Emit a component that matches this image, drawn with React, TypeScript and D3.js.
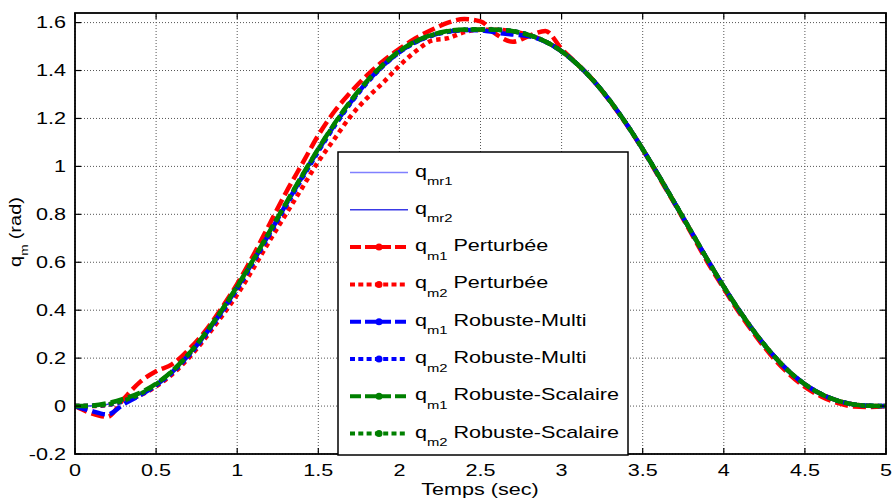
import React from "react";
import * as d3 from "d3";

const TIME = d3.range(51).map((i) => i / 10);

const qmr1 = [0, 0.001, 0.007, 0.023, 0.05, 0.091, 0.146, 0.216, 0.299, 0.394, 0.498, 0.61, 0.727, 0.844, 0.96, 1.072, 1.177, 1.272, 1.355, 1.424, 1.48, 1.521, 1.548, 1.564, 1.57, 1.571, 1.57, 1.564, 1.548, 1.521, 1.48, 1.424, 1.355, 1.272, 1.177, 1.072, 0.96, 0.844, 0.727, 0.61, 0.498, 0.394, 0.299, 0.216, 0.146, 0.091, 0.05, 0.023, 0.007, 0.001, 0];
const qmr2 = [0, 0.001, 0.007, 0.023, 0.05, 0.091, 0.146, 0.216, 0.299, 0.394, 0.498, 0.61, 0.727, 0.844, 0.96, 1.072, 1.177, 1.272, 1.355, 1.424, 1.48, 1.521, 1.548, 1.564, 1.57, 1.571, 1.57, 1.564, 1.548, 1.521, 1.48, 1.424, 1.355, 1.272, 1.177, 1.072, 0.96, 0.844, 0.727, 0.61, 0.498, 0.394, 0.299, 0.216, 0.146, 0.091, 0.05, 0.023, 0.007, 0.001, 0];
const qm1Pert = [0, -0.03, -0.045, 0.03, 0.1, 0.145, 0.175, 0.235, 0.31, 0.405, 0.51, 0.63, 0.76, 0.89, 1.01, 1.13, 1.23, 1.31, 1.38, 1.44, 1.49, 1.535, 1.57, 1.6, 1.615, 1.605, 1.55, 1.52, 1.545, 1.565, 1.49, 1.425, 1.355, 1.27, 1.175, 1.07, 0.955, 0.84, 0.72, 0.6, 0.49, 0.385, 0.29, 0.205, 0.135, 0.08, 0.04, 0.013, -0.002, -0.004, 0];
const qm2Pert = [0, 0, 0.005, 0.02, 0.045, 0.082, 0.133, 0.2, 0.28, 0.37, 0.465, 0.575, 0.69, 0.8, 0.91, 1.02, 1.115, 1.21, 1.285, 1.35, 1.42, 1.48, 1.525, 1.535, 1.56, 1.57, 1.57, 1.563, 1.548, 1.521, 1.48, 1.424, 1.355, 1.272, 1.177, 1.072, 0.96, 0.844, 0.727, 0.61, 0.498, 0.394, 0.299, 0.216, 0.146, 0.091, 0.05, 0.023, 0.007, 0.001, 0];
const qm1Multi = [0, -0.02, -0.035, 0.008, 0.045, 0.088, 0.143, 0.213, 0.296, 0.39, 0.494, 0.606, 0.722, 0.84, 0.956, 1.068, 1.173, 1.268, 1.352, 1.421, 1.477, 1.519, 1.546, 1.563, 1.569, 1.568, 1.558, 1.55, 1.543, 1.52, 1.48, 1.424, 1.355, 1.272, 1.177, 1.072, 0.96, 0.844, 0.727, 0.61, 0.498, 0.394, 0.299, 0.216, 0.146, 0.091, 0.05, 0.023, 0.007, 0.001, 0];
const qm2Multi = [0, 0.001, 0.006, 0.02, 0.046, 0.086, 0.14, 0.209, 0.291, 0.385, 0.488, 0.6, 0.716, 0.833, 0.95, 1.062, 1.168, 1.264, 1.348, 1.419, 1.476, 1.518, 1.546, 1.562, 1.569, 1.571, 1.57, 1.564, 1.548, 1.521, 1.48, 1.424, 1.355, 1.272, 1.177, 1.072, 0.96, 0.844, 0.727, 0.61, 0.498, 0.394, 0.299, 0.216, 0.146, 0.091, 0.05, 0.023, 0.007, 0.001, 0];
const qm1Scal = [0, 0.002, 0.012, 0.03, 0.055, 0.093, 0.147, 0.217, 0.3, 0.396, 0.5, 0.612, 0.729, 0.846, 0.962, 1.074, 1.179, 1.274, 1.356, 1.425, 1.481, 1.522, 1.549, 1.565, 1.571, 1.571, 1.57, 1.564, 1.548, 1.521, 1.48, 1.424, 1.355, 1.272, 1.177, 1.072, 0.96, 0.844, 0.727, 0.61, 0.498, 0.394, 0.299, 0.216, 0.146, 0.091, 0.05, 0.023, 0.007, 0.001, 0];
const qm2Scal = [0, 0.001, 0.007, 0.023, 0.05, 0.091, 0.146, 0.216, 0.299, 0.394, 0.498, 0.61, 0.727, 0.844, 0.96, 1.072, 1.177, 1.272, 1.355, 1.424, 1.48, 1.521, 1.548, 1.564, 1.57, 1.571, 1.57, 1.564, 1.548, 1.521, 1.48, 1.424, 1.355, 1.272, 1.177, 1.072, 0.96, 0.844, 0.727, 0.61, 0.498, 0.394, 0.299, 0.216, 0.146, 0.091, 0.05, 0.023, 0.007, 0.001, 0];

const X_TICKS = [0, 0.5, 1, 1.5, 2, 2.5, 3, 3.5, 4, 4.5, 5];
const X_TICK_LABELS = ["0", "0.5", "1", "1.5", "2", "2.5", "3", "3.5", "4", "4.5", "5"];
const Y_TICKS = [-0.2, 0, 0.2, 0.4, 0.6, 0.8, 1, 1.2, 1.4, 1.6];
const Y_TICK_LABELS = ["-0.2", "0", "0.2", "0.4", "0.6", "0.8", "1", "1.2", "1.4", "1.6"];

type S = { sub: string; rest: string; data: number[]; color: string; kind: "thin" | "dash" | "dot" };
const SERIES: S[] = [
  { sub: "mr1", rest: "", data: qmr1, color: "#8080ff", kind: "thin" },
  { sub: "mr2", rest: "", data: qmr2, color: "#3a3ae6", kind: "thin" },
  { sub: "m1", rest: "Perturbée", data: qm1Pert, color: "#ff0000", kind: "dash" },
  { sub: "m2", rest: "Perturbée", data: qm2Pert, color: "#ff0000", kind: "dot" },
  { sub: "m1", rest: "Robuste-Multi", data: qm1Multi, color: "#0000ff", kind: "dash" },
  { sub: "m2", rest: "Robuste-Multi", data: qm2Multi, color: "#0000ff", kind: "dot" },
  { sub: "m1", rest: "Robuste-Scalaire", data: qm1Scal, color: "#008000", kind: "dash" },
  { sub: "m2", rest: "Robuste-Scalaire", data: qm2Scal, color: "#008000", kind: "dot" },
];

const W = 893, H = 498;
const L = 75, R = 886, T = 13, B = 454;
const FONT = "'Liberation Sans', Arial, sans-serif";
const SX = 1.35;

function styleOf(kind: string) {
  if (kind === "thin") return { w: 1.3, dash: undefined as string | undefined };
  if (kind === "dash") return { w: 4.5, dash: "13,5" };
  return { w: 4.5, dash: "4.5,4" };
}

export default function App() {
  const x = d3.scaleLinear().domain([0, 5]).range([L, R]);
  const y = d3.scaleLinear().domain([-0.2, 1.64]).range([B, T]);
  const line = d3
    .line<number>()
    .x((_, i) => x(TIME[i]))
    .y((d) => y(d))
    .curve(d3.curveMonotoneX);

  const lgX = 338, lgY = 152, lgW = 290, lgH = 303;
  const rowY0 = 172.5, rowStep = 37.3;
  const tick = 6;

  return (
    <svg width={W} height={H} style={{ position: "absolute", left: 0, top: 0, background: "#fff" }}>
      <rect x={0} y={0} width={W} height={H} fill="#fff" />
      {/* grid */}
      {X_TICKS.map((t) => (
        <line key={"gx" + t} x1={x(t)} x2={x(t)} y1={T} y2={B} stroke="#555" strokeWidth={1} strokeDasharray="1,2" />
      ))}
      {Y_TICKS.map((t) => (
        <line key={"gy" + t} x1={L} x2={R} y1={y(t)} y2={y(t)} stroke="#555" strokeWidth={1} strokeDasharray="1,2" />
      ))}
      {/* curves */}
      <g clipPath="url(#clip)">
        {SERIES.map((s, i) => {
          const st = styleOf(s.kind);
          return (
            <path key={"c" + i} d={line(s.data) || ""} fill="none" stroke={s.color} strokeWidth={st.w} strokeDasharray={st.dash} />
          );
        })}
      </g>
      <defs>
        <clipPath id="clip">
          <rect x={L} y={T - 3} width={R - L + 4} height={B - T + 6} />
        </clipPath>
      </defs>
      {/* axes box */}
      <rect x={L} y={T} width={R - L} height={B - T} fill="none" stroke="#000" strokeWidth={1.8} />
      {X_TICKS.map((t) => (
        <g key={"tx" + t}>
          <line x1={x(t)} x2={x(t)} y1={B} y2={B - tick} stroke="#000" strokeWidth={1.2} />
          <line x1={x(t)} x2={x(t)} y1={T} y2={T + tick} stroke="#000" strokeWidth={1.2} />
        </g>
      ))}
      {Y_TICKS.map((t) => (
        <g key={"ty" + t}>
          <line x1={L} x2={L + tick} y1={y(t)} y2={y(t)} stroke="#000" strokeWidth={1.2} />
          <line x1={R} x2={R - tick} y1={y(t)} y2={y(t)} stroke="#000" strokeWidth={1.2} />
        </g>
      ))}
      {/* tick labels */}
      {Y_TICKS.map((t, i) => (
        <text key={"yl" + t} transform={`translate(66,${y(t) + 5.7}) scale(${SX},1)`} textAnchor="end" fontSize={16} fontFamily={FONT}>
          {Y_TICK_LABELS[i]}
        </text>
      ))}
      {X_TICKS.map((t, i) => (
        <text key={"xl" + t} transform={`translate(${x(t)},476) scale(${SX},1)`} textAnchor="middle" fontSize={16} fontFamily={FONT}>
          {X_TICK_LABELS[i]}
        </text>
      ))}
      <text transform={`translate(480,495) scale(${SX},1)`} textAnchor="middle" fontSize={16} fontFamily={FONT}>
        Temps (sec)
      </text>
      <text transform={`translate(21,232) rotate(-90) scale(1.25,1)`} textAnchor="middle" fontSize={16} fontFamily={FONT}>
        <tspan>q</tspan>
        <tspan fontSize={11} dy={7}>m</tspan>
        <tspan dy={-7} dx={4}>(rad)</tspan>
      </text>
      {/* legend */}
      <rect x={lgX} y={lgY} width={lgW} height={lgH} fill="#fff" stroke="#000" strokeWidth={1.5} />
      {SERIES.map((s, i) => {
        const ry = rowY0 + i * rowStep;
        const st = styleOf(s.kind);
        const lw = s.kind === "thin" ? 1.5 : 4;
        const dash = s.kind === "thin" ? undefined : s.kind === "dash" ? "11,4" : "5,3.3";
        return (
          <g key={"lg" + i}>
            <line x1={350} x2={408} y1={ry} y2={ry} stroke={s.color} strokeWidth={lw} strokeDasharray={dash} />
            {s.kind !== "thin" && <circle cx={379} cy={ry} r={3.5} fill={s.color} />}
            <text transform={`translate(415,${ry + 4}) scale(${SX},1)`} fontSize={16} fontFamily={FONT}>
              <tspan>q</tspan>
              <tspan fontSize={11} dy={8.5}>{s.sub}</tspan>
              {s.rest && (
                <tspan dy={-8.5} dx={4.3}>
                  {s.rest}
                </tspan>
              )}
            </text>
          </g>
        );
      })}
    </svg>
  );
}
